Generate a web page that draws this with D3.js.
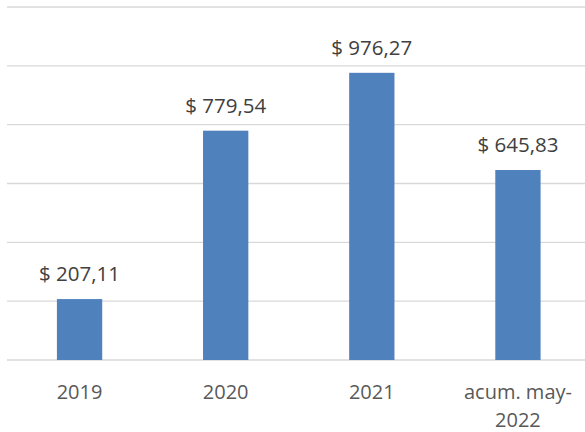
<!DOCTYPE html>
<html><head><meta charset="utf-8">
<script src="https://cdn.jsdelivr.net/npm/d3@7"></script>
<style>body{margin:0;background:#fff;}svg{display:block;}</style>
</head><body>
<script>
const categories = ["2019", "2020", "2021", "acum. may-2022"];
const categoryLines = [["2019"], ["2020"], ["2021"], ["acum. may-", "2022"]];
const values = [207.11, 779.54, 976.27, 645.83];
const yTicks = [0, 200, 400, 600, 800, 1000, 1200];

const W = 585, H = 432;
const svg = d3.select("body").append("svg").attr("width", W).attr("height", H);
const font = "'Open Sans', sans-serif";

const x = d3.scaleBand().domain(categories).range([6.5, 591]).paddingInner(0.69).paddingOuter(0.345);
const y = d3.scaleLinear().domain([0, 1200]).range([360, 7]);

// gridlines
svg.append("g").selectAll("line").data(yTicks).join("line")
  .attr("x1", 7).attr("x2", 585)
  .attr("y1", d => y(d)).attr("y2", d => y(d))
  .attr("stroke", "#d9d9d9").attr("stroke-width", 1.4);

// bars
svg.append("g").selectAll("rect").data(values).join("rect")
  .attr("x", (d, i) => x(categories[i]))
  .attr("width", x.bandwidth())
  .attr("y", d => y(d))
  .attr("height", d => y(0) - y(d))
  .attr("fill", "#4f81bd");

const loc = d3.formatLocale({decimal: ",", thousands: ".", grouping: [3], currency: ["$ ", ""]});
const fmt = loc.format("$,.2f");

svg.append("g").selectAll("text").data(values).join("text")
  .attr("x", (d, i) => x(categories[i]) + x.bandwidth() / 2)
  .attr("y", d => y(d) - 18)
  .attr("text-anchor", "middle")
  .attr("font-family", font).attr("font-size", 20.5)
  .attr("fill", "#404040")
  .text(d => fmt(d));

// x axis
const xAxis = svg.append("g").attr("transform", "translate(0,360)")
  .call(d3.axisBottom(x).tickSize(0).tickPadding(0));
xAxis.select(".domain").remove();
xAxis.selectAll(".tick text").each(function(d, i) {
  const t = d3.select(this);
  t.text(null).attr("y", 0).attr("dy", null)
    .attr("font-family", font).attr("font-size", 20).attr("fill", "#595959");
  categoryLines[i].forEach((line, j) => {
    t.append("tspan").attr("x", 0).attr("y", 39 + j * 28).text(line);
  });
});
</script>
</body></html>
